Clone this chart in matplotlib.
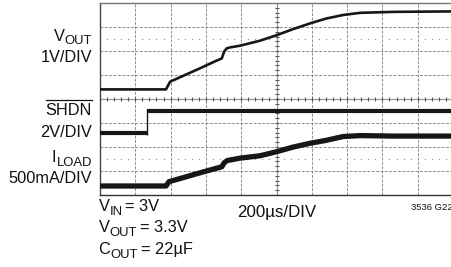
import matplotlib

matplotlib.use("Agg")
import matplotlib.pyplot as plt
from matplotlib.lines import Line2D
import numpy as np

W, H = 452, 267

plt.rcParams["font.family"] = ["Liberation Sans", "DejaVu Sans"]

# scope settings
TIME_PER_DIV = 200.0  # us
VOUT_PER_DIV = 1.0  # V
SHDN_PER_DIV = 2.0  # V
ILOAD_PER_DIV = 0.5  # A

# channel ground markers (divisions from the bottom of the screen)
VOUT_ZERO = 4.40
SHDN_ZERO = 2.57
ILOAD_ZERO = 0.375

# traces
vout_t = [0, 374, 397, 482, 567, 652, 690, 703, 718, 737, 793, 907, 1001,
          1093, 1190, 1280, 1377, 1473, 1660, 2000]
vout_v = [0, 0, 0.32, 0.60, 0.88, 1.17, 1.29, 1.57, 1.71, 1.75, 1.82, 2.03,
          2.26, 2.51, 2.75, 2.95, 3.10, 3.19, 3.23, 3.25]

shdn_t = [0, 265, 265, 2000]
shdn_v = [0, 0, 1.88, 1.88]

iload_t = [0, 374, 391, 567, 690, 703, 720, 793, 907, 1001, 1093, 1190, 1280,
           1377, 1473, 1660, 2000]
iload_a = [0, 0, 0.09, 0.275, 0.40, 0.48, 0.53, 0.58, 0.63, 0.715, 0.81, 0.89,
           0.95, 1.03, 1.05, 1.04, 1.04]

fig = plt.figure(figsize=(W / 100, H / 100), dpi=100)
ax = fig.add_axes([100 / W, 1 - 195 / H, 353 / W, 192 / H])
ax.set_xlim(0, 10)
ax.set_ylim(0, 8)
ax.set_xticks([])
ax.set_yticks([])
ax.spines["right"].set_visible(False)
ax.spines["left"].set_color("#444444")
ax.spines["bottom"].set_color("#333333")
ax.spines["top"].set_color("#777777")
for s in ["left", "bottom", "top"]:
    ax.spines[s].set_linewidth(1.0)

grid_kw = dict(color="#8c8c8c", lw=0.7, ls=(0, (3, 1.5)), zorder=1)
for i in range(1, 10):
    if i != 5:
        ax.axvline(i, **grid_kw)
for j in range(1, 8):
    if j != 4:
        ax.axhline(j, **grid_kw)

# centre axes with minor ticks
ax.axvline(5, color="#999999", lw=0.9, zorder=1)
ax.axhline(4, color="#999999", lw=0.9, zorder=1)
xt = np.arange(0, 10.01, 0.2)
yt = np.arange(0, 8.01, 0.2)
ax.plot(xt, np.full_like(xt, 4), ls="none", marker="|", ms=3.5, mew=0.8,
        color="#555555", zorder=1)
ax.plot(np.full_like(yt, 5), yt, ls="none", marker="_", ms=3.5, mew=0.8,
        color="#555555", zorder=1)

# half-division dotted rows
dots = np.array([k / 5 for k in range(50) if k % 5 != 0])
for yy in (1.5, 6.5):
    ax.plot(dots, np.full_like(dots, yy), ls="none", marker="s", ms=0.9,
            color="#999999", mew=0, zorder=1)

trace = "#161616"
ax.plot(np.array(vout_t) / TIME_PER_DIV,
        VOUT_ZERO + np.array(vout_v) / VOUT_PER_DIV,
        color=trace, lw=1.9, solid_joinstyle="round", zorder=3)

# SHDN: thick levels, thin edge
st = np.array(shdn_t) / TIME_PER_DIV
sv = SHDN_ZERO + np.array(shdn_v) / SHDN_PER_DIV
ax.hlines([sv[0], sv[2]], [st[0], st[2]], [st[1], st[3]], color=trace, lw=3.0,
          zorder=3)
ax.vlines(st[1], sv[1] - 0.06, sv[2] + 0.06, color=trace, lw=1.0, zorder=3)

ax.plot(np.array(iload_t) / TIME_PER_DIV,
        ILOAD_ZERO + np.array(iload_a) / ILOAD_PER_DIV,
        color=trace, lw=3.8, solid_joinstyle="round", zorder=3)

renderer = fig.canvas.get_renderer()
SIZE = 11.8
SUB = 9.4


def width_of(text, size):
    t = fig.text(0, 0, text, fontsize=size)
    w = t.get_window_extent(renderer).width
    t.remove()
    return w


def label(x, y, runs, ha="left", drop=4.0, gap=3.0):
    """runs: list of (text, is_subscript); x, y in pixels (y = baseline)."""
    widths = []
    for i, (text, sub) in enumerate(runs):
        w = width_of(text, SUB if sub else SIZE)
        if i > 0 and not sub and runs[i - 1][1]:
            w += gap
        widths.append(w)
    start = x - sum(widths) if ha == "right" else x
    out = []
    for i, ((text, sub), w) in enumerate(zip(runs, widths)):
        xx = start
        if i > 0 and not sub and runs[i - 1][1]:
            xx += gap
        yy = y + drop if sub else y
        out.append(fig.text(xx / W, 1 - yy / H, text,
                            fontsize=SUB if sub else SIZE,
                            ha="left", va="baseline", color="#111111"))
        start += w
    return out


label(92, 40.7, [("V", False), ("OUT", True)], ha="right", drop=3.0)
label(92, 62.3, [("1V/DIV", False)], ha="right")
sh = label(92, 115, [("SHDN", False)], ha="right")[0]
bb = sh.get_window_extent(renderer)
fig.add_artist(Line2D([bb.x0 / W, bb.x1 / W], [1 - 100.5 / H, 1 - 100.5 / H],
                      color="#111111", lw=0.9))
label(92, 136.7, [("2V/DIV", False)], ha="right")
label(92, 161.7, [("I", False), ("LOAD", True)], ha="right", drop=4.5)
label(92, 183.3, [("500mA/DIV", False)], ha="right")

label(98.5, 210.7, [("V", False), ("IN", True), ("= 3V", False)], drop=4.5)
label(98.5, 231.7, [("V", False), ("OUT", True), ("= 3.3V", False)], drop=4.5)
label(98.5, 254, [("C", False), ("OUT", True), ("= 22µF", False)], drop=4.5)

fig.text(237.5 / W, 1 - 216.7 / H, "200µs/DIV", fontsize=12.2,
         ha="left", va="baseline", color="#111111")
fig.text(411 / W, 1 - 210 / H, "3536 G22", fontsize=6.8,
         ha="left", va="baseline", color="#111111")

fig.savefig("out.png", dpi=100)
